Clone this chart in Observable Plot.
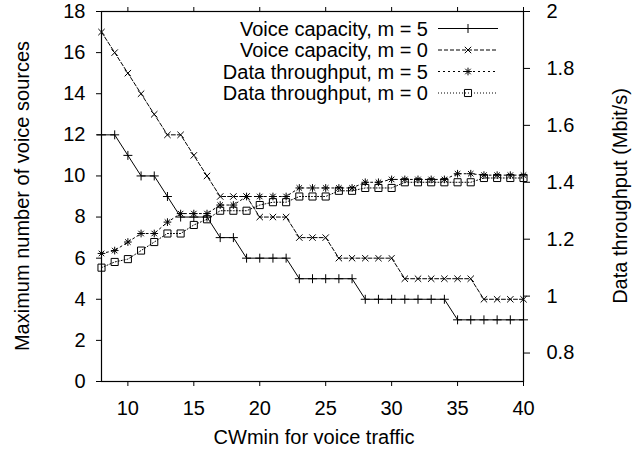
<!DOCTYPE html>
<html><head><meta charset="utf-8">
<script src="https://cdn.jsdelivr.net/npm/d3@7"></script>
<script src="https://cdn.jsdelivr.net/npm/@observablehq/plot@0.6"></script>
<style>
html,body{margin:0;padding:0;background:#fff;}
</style></head><body><div id="chart"></div>
<script>
// ---- data ----
const cwmin   = [8,9,10,11,12,13,14,15,16,17,18,19,20,21,22,23,24,25,26,27,28,29,30,31,32,33,34,35,36,37,38,39,40];
const voiceM5 = [12,12,11,10,10,9,8,8,8,7,7,6,6,6,6,5,5,5,5,5,4,4,4,4,4,4,4,3,3,3,3,3,3];
const voiceM0 = [17,16,15,14,13,12,12,11,10,9,9,9,8,8,8,7,7,7,6,6,6,6,6,5,5,5,5,5,5,4,4,4,4];
const dataM5  = [1.15,1.16,1.19,1.22,1.22,1.26,1.29,1.29,1.29,1.32,1.32,1.35,1.35,1.35,1.35,1.38,1.38,1.38,1.38,1.38,1.40,1.40,1.41,1.41,1.41,1.41,1.41,1.43,1.43,1.425,1.425,1.425,1.425];
const dataM0  = [1.10,1.12,1.13,1.16,1.19,1.22,1.22,1.25,1.27,1.30,1.30,1.30,1.32,1.33,1.33,1.35,1.35,1.35,1.37,1.37,1.38,1.38,1.38,1.40,1.40,1.40,1.40,1.40,1.40,1.415,1.415,1.415,1.415];
const seriesNames = ["Voice capacity, m = 5", "Voice capacity, m = 0", "Data throughput, m = 5", "Data throughput, m = 0"];
const xTicks  = [10,15,20,25,30,35,40];
const yTicks  = [0,2,4,6,8,10,12,14,16,18];
const y2Ticks = [0.8,1,1.2,1.4,1.6,1.8,2];
const xLabel  = "CWmin for voice traffic";
const yLabel  = "Maximum number of voice sources";
const y2Label = "Data throughput (Mbit/s)";
const yDomain  = [0, 18];
const y2Domain = [0.7, 2.0];

// map right-axis values onto the left y scale
const toLeft   = t => (t - y2Domain[0]) / (y2Domain[1] - y2Domain[0]) * (yDomain[1] - yDomain[0]) + yDomain[0];
const fromLeft = v => (v - yDomain[0]) / (yDomain[1] - yDomain[0]) * (y2Domain[1] - y2Domain[0]) + y2Domain[0];

const rows = cwmin.map((x, i) => ({x, v5: voiceM5[i], v0: voiceM0[i], d5: toLeft(dataM5[i]), d0: toLeft(dataM0[i])}));

const FONT = "'Liberation Sans', Arial, Helvetica, sans-serif";
const W = 641, H = 456;
const mL = 101, mR = 118, mT = 11, mB = 75;

const styles = [
  {dash: null,  sym: ["plus"],          r: 3},
  {dash: "4,2", sym: ["times"],         r: 3},
  {dash: "2,3", sym: ["plus","times"],  r: 2.6},
  {dash: "1,2", sym: ["square"],        r: 4}
];
const keys = ["v5","v0","d5","d0"];

const marks = [
  Plot.frame({stroke: "#000", strokeWidth: 1.2}),
  Plot.axisX(xTicks, {anchor: "bottom", tickSize: 5, tickPadding: 14, label: null}),
  Plot.axisX(xTicks, {anchor: "top", tickSize: 5, tickFormat: () => "", label: null}),
  Plot.axisY(yTicks, {anchor: "left", tickSize: 5, tickPadding: 11, label: null}),
  Plot.axisY(y2Ticks.map(toLeft), {anchor: "right", tickSize: 6, tickPadding: 17, label: null,
    tickFormat: d => String(+fromLeft(d).toFixed(1))})
];
keys.forEach((k, i) => {
  const s = styles[i];
  marks.push(Plot.line(rows, {x: "x", y: k, stroke: "#000", strokeWidth: 1, strokeDasharray: s.dash || undefined}));
  s.sym.forEach(sym => marks.push(Plot.dot(rows, {x: "x", y: k, symbol: sym, r: s.r, stroke: "#000", strokeWidth: 1, fill: "none"})));
});

const chart = Plot.plot({
  width: W, height: H,
  marginLeft: mL, marginRight: mR, marginTop: mT, marginBottom: mB,
  style: {fontFamily: FONT, fontSize: "20px", color: "#000", background: "#fff", overflow: "visible"},
  x: {domain: [cwmin[0], cwmin[cwmin.length - 1]]},
  y: {domain: yDomain},
  marks
});
document.getElementById("chart").appendChild(chart);

// ---- axis titles & legend ----
const svg = d3.select(chart);
const g = svg.append("g").attr("font-family", FONT).attr("font-size", 20).attr("fill", "#000");
g.append("text").attr("x", 314).attr("y", 437).attr("dy", "0.35em").attr("text-anchor", "middle").text(xLabel);
g.append("text").attr("transform", `translate(22,${(mT + H - mB) / 2}) rotate(-90)`).attr("dy", "0.35em").attr("text-anchor", "middle").text(yLabel);
g.append("text").attr("transform", `translate(620,${(mT + H - mB) / 2}) rotate(-90)`).attr("dy", "0.35em").attr("text-anchor", "middle").text(y2Label);

const symMap = {plus: d3.symbolPlus, times: d3.symbolTimes, square: d3.symbolSquare};
const legY0 = 28.5, legDY = 21.5, legTextX = 428, legL0 = 438, legL1 = 498, legM = 468;
seriesNames.forEach((name, i) => {
  const y = legY0 + i * legDY, s = styles[i];
  g.append("text").attr("x", legTextX).attr("y", y).attr("dy", "0.35em").attr("text-anchor", "end").text(name);
  g.append("line").attr("x1", legL0).attr("x2", legL1).attr("y1", y).attr("y2", y)
    .attr("stroke", "#000").attr("stroke-width", 1).attr("stroke-dasharray", s.dash);
  s.sym.forEach(sym => {
    g.append("path").attr("transform", `translate(${legM},${y})`)
      .attr("d", d3.symbol(symMap[sym], s.r * s.r * Math.PI)())
      .attr("fill", "none").attr("stroke", "#000").attr("stroke-width", 1);
  });
});
</script></body></html>
